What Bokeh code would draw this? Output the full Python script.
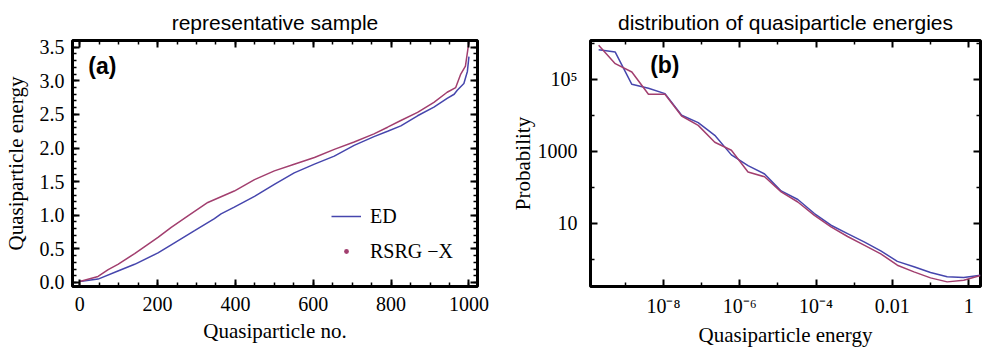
from bokeh.plotting import figure
from bokeh.layouts import row
from bokeh.models import (Range1d, LinearAxis, LogAxis, SingleIntervalTicker, FixedTicker,
                          CustomJSTickFormatter, Legend, LegendItem, Label, Title)
from bokeh.embed import file_html
from bokeh.resources import INLINE

SERIF = "Liberation Serif"
SANS = "Liberation Sans"
BLUE = "#4646ad"
RED = "#a23f6f"

# ---------------- panel (a): representative sample ----------------
ed_index = [0, 47, 98, 141, 201, 235, 295, 346, 363, 397, 449, 500, 551, 603, 654,
            705, 756, 791, 825, 868, 910, 944, 962, 970, 987, 996, 1000]
ed_energy = [0.015, 0.05, 0.17, 0.27, 0.44, 0.56, 0.77, 0.95, 1.02, 1.12, 1.28, 1.46,
             1.63, 1.76, 1.88, 2.04, 2.17, 2.25, 2.33, 2.48, 2.61, 2.74, 2.80, 2.86,
             2.96, 3.14, 3.36]
rs_index = [0, 47, 73, 98, 141, 201, 235, 278, 329, 397, 449, 500, 551, 603, 654, 705,
            756, 791, 825, 868, 910, 944, 966, 979, 991, 1000]
rs_energy = [0.015, 0.09, 0.19, 0.27, 0.43, 0.67, 0.82, 0.99, 1.19, 1.36, 1.53, 1.66,
             1.76, 1.86, 1.98, 2.09, 2.21, 2.31, 2.41, 2.53, 2.68, 2.83, 2.90, 3.10,
             3.22, 3.58]
a_xticks = [0, 200, 400, 600, 800, 1000]
a_xlabels = ["0", "200", "400", "600", "800", "1000"]
a_yticks = [0.0, 0.5, 1.0, 1.5, 2.0, 2.5, 3.0, 3.5]
a_ylabels = ["0.0", "0.5", "1.0", "1.5", "2.0", "2.5", "3.0", "3.5"]

# ---------------- panel (b): distribution of energies ----------------
b_energy = [2.01e-10, 5.47e-10, 1.49e-9, 4.06e-9, 1.10e-8, 3.01e-8, 8.17e-8, 2.22e-7,
            6.05e-7, 1.65e-6, 4.49e-6, 1.22e-5, 3.33e-5, 9.06e-5, 2.47e-4, 6.70e-4,
            1.82e-3, 4.97e-3, 1.35e-2, 3.68e-2, 0.100, 0.273, 0.743, 2.02]
b_prob_ed = [6.68e5, 5.73e5, 7.26e4, 5.62e4, 4.01e4, 1.00e4, 6.27e3, 2.78e3, 794, 398,
             234, 79.1, 45.5, 18.6, 8.79, 5.16, 3.03, 1.70, 0.871, 0.617, 0.427, 0.324,
             0.310, 0.355]
b_prob_rs = [8.79e5, 2.73e5, 1.60e5, 3.83e4, 3.83e4, 9.55e3, 5.25e3, 1.78e3, 1.07e3, 266,
             195, 74.1, 38.9, 16.6, 7.94, 4.27, 2.45, 1.41, 0.681, 0.445, 0.302, 0.234,
             0.261, 0.352]
b_xticks = [1e-8, 1e-6, 1e-4, 1e-2, 1.0]
b_xlabels = ["10\u207b\u2078", "10\u207b\u2076", "10\u207b\u2074", "0.01", "1"]
b_xminor = [1e-9, 1e-7, 1e-5, 1e-3, 1e-1]
b_yticks = [10.0, 1000.0, 1e5]
b_ylabels = ["10", "1000", "10\u2075"]
b_yminor = [1.0, 100.0, 1e4, 1e6]

LIN_FMT = """
const i = vals.findIndex(v => Math.abs(v - tick) < 1e-6);
return i >= 0 ? labs[i] : "";
"""
LOG_FMT = """
const i = vals.findIndex(v => Math.abs(Math.log10(v) - Math.log10(tick)) < 1e-6);
return i >= 0 ? labs[i] : "";
"""
BLANK_FMT = "return '';"


def style_axis(ax, show_labels=True):
    ax.axis_line_color = None
    ax.major_tick_in = 7
    ax.major_tick_out = 0
    ax.minor_tick_in = 4
    ax.minor_tick_out = 0
    ax.major_tick_line_color = "black"
    ax.major_tick_line_width = 2
    ax.minor_tick_line_color = "black"
    ax.minor_tick_line_width = 1.5
    ax.major_label_text_font = SERIF
    ax.major_label_text_color = "black"
    ax.major_label_text_font_size = "20px"
    ax.axis_label_text_font = SERIF
    ax.axis_label_text_font_size = "21px"
    ax.axis_label_text_font_style = "normal"
    ax.axis_label_text_color = "black"
    if not show_labels:
        ax.formatter = CustomJSTickFormatter(code=BLANK_FMT)
        ax.major_label_text_font_size = "1px"
        ax.major_label_standoff = 0


def style_fig(p, title):
    p.title.text = title
    p.title.align = "center"
    p.title.text_font = SANS
    p.title.text_font_size = "21px"
    p.title.text_font_style = "normal"
    p.title.text_color = "black"
    p.title.standoff = 13
    p.outline_line_color = "black"
    p.outline_line_width = 3
    p.outline_line_alpha = 1
    p.xgrid.visible = False
    p.ygrid.visible = False
    p.background_fill_color = "white"
    p.border_fill_color = "white"


def xtitle(text, standoff):
    # x-axis title placed in the panel below the tick labels
    return Title(text=text, align="center", text_font=SERIF, text_font_size="21px",
                 text_font_style="normal", text_color="black", standoff=standoff)


# ---------- figure (a) ----------
pa = figure(width=500, height=348, output_backend="svg", toolbar_location=None,
            x_range=Range1d(-18.7, 1022), y_range=Range1d(-0.06, 3.6),
            min_border_left=71, min_border_right=23, min_border_top=40,
            min_border_bottom=60)
style_fig(pa, "representative sample")

pa.xaxis.ticker = SingleIntervalTicker(interval=200, num_minor_ticks=4)
pa.yaxis.ticker = SingleIntervalTicker(interval=0.5, num_minor_ticks=5)
pa.xaxis.formatter = CustomJSTickFormatter(args=dict(vals=a_xticks, labs=a_xlabels), code=LIN_FMT)
pa.yaxis.formatter = CustomJSTickFormatter(args=dict(vals=a_yticks, labs=a_ylabels), code=LIN_FMT)
pa.yaxis.axis_label = "Quasiparticle energy"
for ax in pa.xaxis + pa.yaxis:
    style_axis(ax)
pa.xaxis.major_label_standoff = 10
pa.yaxis.major_label_standoff = 8
pa.yaxis.axis_label_standoff = 9
pa.add_layout(xtitle("Quasiparticle no.", 7), "below")

top_a = LinearAxis(ticker=SingleIntervalTicker(interval=200, num_minor_ticks=4))
right_a = LinearAxis(ticker=SingleIntervalTicker(interval=0.5, num_minor_ticks=5))
style_axis(top_a, False)
style_axis(right_a, False)
pa.add_layout(top_a, "above")
pa.add_layout(right_a, "right")

r_ed = pa.line(ed_index, ed_energy, line_color=BLUE, line_width=1.5)
r_rs = pa.line(rs_index, rs_energy, line_color=RED, line_width=1.5)
# legend marker for the RSRG-X series (drawn at zero size on the plot itself)
r_dot = pa.scatter(rs_index, rs_energy, size=0, marker="circle",
                   fill_color=RED, line_color=None)

legend = Legend(items=[LegendItem(label="ED", renderers=[r_ed]),
                       LegendItem(label="RSRG \u2212X", renderers=[r_dot])],
                location=(259, 23), orientation="vertical",
                background_fill_alpha=0, border_line_color=None,
                padding=0, margin=0, spacing=11,
                glyph_width=30, glyph_height=12, label_height=24,
                label_standoff=9, label_text_font=SERIF,
                label_text_font_size="20px", label_text_color="black")
pa.add_layout(legend)

pa.add_layout(Label(x=22, y=3.42, text="(a)", text_font=SANS, text_font_size="23px",
                    text_font_style="bold", text_color="black", text_baseline="top"))

# ---------- figure (b) ----------
pb = figure(width=482, height=348, output_backend="svg", toolbar_location=None,
            x_axis_type="log", y_axis_type="log",
            x_range=Range1d(1.23e-10, 2.04), y_range=Range1d(0.174, 1.2e6),
            min_border_left=90, min_border_right=2, min_border_top=40,
            min_border_bottom=60)
style_fig(pb, "distribution of quasiparticle energies")

pb.xaxis.ticker = FixedTicker(ticks=b_xticks, minor_ticks=b_xminor)
pb.yaxis.ticker = FixedTicker(ticks=b_yticks, minor_ticks=b_yminor)
pb.yaxis.axis_label = "Probability"
for ax in pb.xaxis + pb.yaxis:
    style_axis(ax)
pb.xaxis.formatter = CustomJSTickFormatter(args=dict(vals=b_xticks, labs=b_xlabels), code=LOG_FMT)
pb.yaxis.formatter = CustomJSTickFormatter(args=dict(vals=b_yticks, labs=b_ylabels), code=LOG_FMT)
pb.xaxis.major_label_standoff = 8
pb.yaxis.major_label_standoff = 13
pb.yaxis.axis_label_standoff = 0
pb.add_layout(xtitle("Quasiparticle energy", 3), "below")

top_b = LogAxis(ticker=FixedTicker(ticks=b_xticks, minor_ticks=b_xminor))
right_b = LogAxis(ticker=FixedTicker(ticks=b_yticks, minor_ticks=b_yminor))
style_axis(top_b, False)
style_axis(right_b, False)
pb.add_layout(top_b, "above")
pb.add_layout(right_b, "right")

pb.line(b_energy, b_prob_ed, line_color=BLUE, line_width=1.5)
pb.line(b_energy, b_prob_rs, line_color=RED, line_width=1.5)

pb.add_layout(Label(x=4.5e-9, y=5.6e5, text="(b)", text_font=SANS, text_font_size="23px",
                    text_font_style="bold", text_color="black", text_baseline="top"))

layout = row(pa, pb)
open("out.html", "w").write(file_html(layout, INLINE))
